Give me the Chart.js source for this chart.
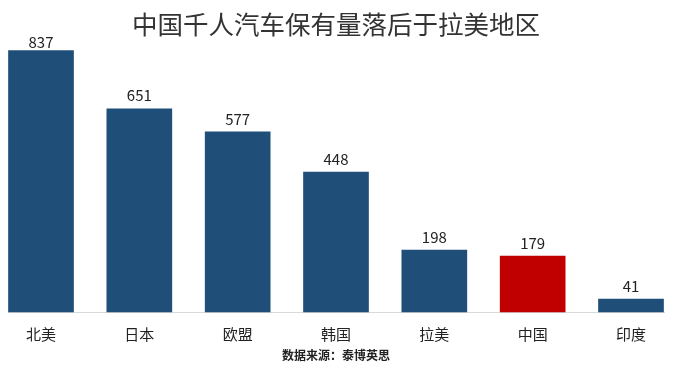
<!DOCTYPE html>
<html>
<head>
<meta charset="utf-8">
<script src="https://cdn.jsdelivr.net/npm/chart.js@4"></script>
<style>
  html, body { margin: 0; padding: 0; background: #fff; }
  #wrap { width: 674px; height: 368px; }
</style>
</head>
<body>
<div id="wrap"><canvas id="carChart"></canvas></div>
<script>
const regions = ['北美', '日本', '欧盟', '韩国', '拉美', '中国', '印度'];
const carsPerThousand = [837, 651, 577, 448, 198, 179, 41];
const barColors = ['#1f4e79', '#1f4e79', '#1f4e79', '#1f4e79', '#1f4e79', '#c00000', '#1f4e79'];

const fontFamily = '"Noto Sans CJK SC", "Noto Sans", sans-serif';

// value labels above each bar (kept inside the plot top, like a clamped datalabel)
const valueLabels = {
    id: 'valueLabels',
    afterDatasetsDraw(chart) {
        const ctx = chart.ctx;
        const meta = chart.getDatasetMeta(0);
        ctx.save();
        ctx.font = '15px ' + fontFamily;
        ctx.fillStyle = '#222';
        ctx.textAlign = 'center';
        ctx.textBaseline = 'middle';
        meta.data.forEach((bar, i) => {
            const y = Math.max(bar.y - 13, chart.chartArea.top - 4);
            ctx.fillText(carsPerThousand[i], bar.x, y);
        });
        ctx.restore();
    }
};

// light baseline under the bars, wider than the plot area
const baseline = {
    id: 'baseline',
    beforeDatasetsDraw(chart) {
        const ctx = chart.ctx;
        const y = chart.chartArea.bottom + 0.5;
        ctx.save();
        ctx.strokeStyle = '#d9d9d9';
        ctx.lineWidth = 1;
        ctx.beginPath();
        ctx.moveTo(8, y);
        ctx.lineTo(665, y);
        ctx.stroke();
        ctx.restore();
    }
};

new Chart(document.getElementById('carChart'), {
    type: 'bar',
    data: {
        labels: regions,
        datasets: [{
            data: carsPerThousand,
            backgroundColor: barColors,
            barThickness: 65,
            clip: false
        }]
    },
    options: {
        responsive: true,
        maintainAspectRatio: false,
        animation: false,
        layout: { padding: { left: 41, right: 43, top: 0, bottom: 0 } },
        plugins: {
            legend: { display: false },
            tooltip: { enabled: false },
            title: {
                display: true,
                text: '中国千人汽车保有量落后于拉美地区',
                color: '#333',
                font: { family: fontFamily, size: 25.5, weight: 'normal' },
                padding: { top: 9, bottom: 7 }
            },
            subtitle: {
                display: true,
                position: 'bottom',
                text: '数据来源：泰博英思',
                color: '#222',
                font: { family: fontFamily, size: 12, weight: 'bold' },
                // pulled up into the tick label band
                padding: { top: -8.2, bottom: 5.8 }
            }
        },
        scales: {
            x: {
                offset: false,
                grid: { display: false, drawTicks: false },
                border: { display: false },
                ticks: {
                    color: '#222',
                    padding: 4,
                    font: { family: fontFamily, size: 15, lineHeight: '36px' }
                }
            },
            y: {
                display: false,
                min: 0,
                max: 850
            }
        }
    },
    plugins: [baseline, valueLabels]
});
</script>
</body>
</html>
